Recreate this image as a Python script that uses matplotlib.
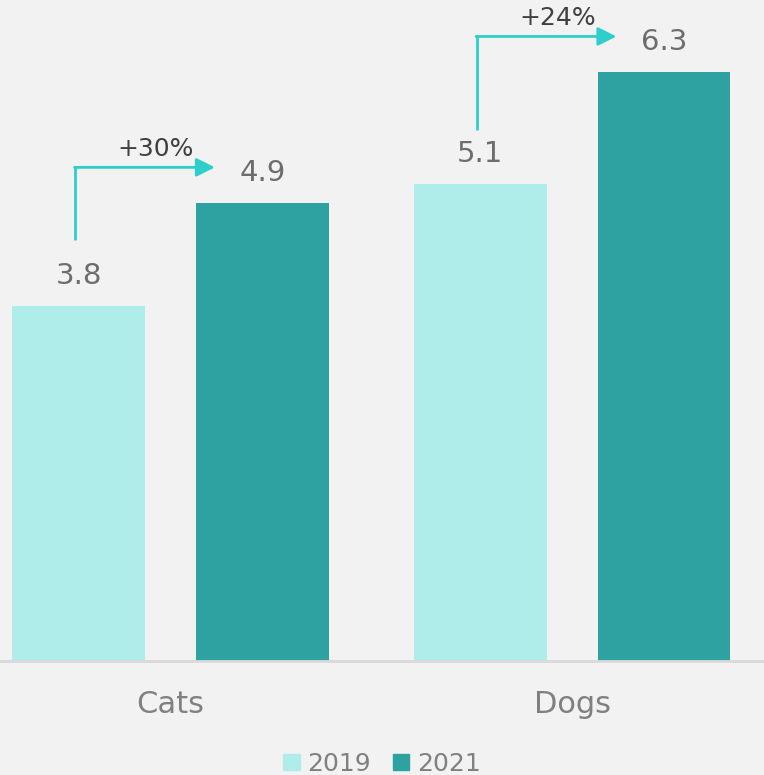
import matplotlib.pyplot as plt
import numpy as np
from matplotlib.patches import Patch

categories = ["Cats", "Dogs"]
years = ["2019", "2021"]
values_2019 = [3.8, 5.1]
values_2021 = [4.9, 6.3]
growth_labels = ["+30%", "+24%"]

c_light = "#aeede9"
c_dark = "#2ea2a0"
c_arrow = "#2ecfcb"
bg = "#f2f2f2"

plt.rcParams["font.family"] = ["DejaVu Sans"]

fig = plt.figure(figsize=(7.64, 7.75), dpi=100, facecolor=bg)
ax = fig.add_axes([0, 114 / 775, 1, 661 / 775])
ax.set_facecolor(bg)

x = np.arange(len(categories))
off = 0.229
w = 0.331
ax.bar(x - off, values_2019, width=w, color=c_light)
ax.bar(x + off, values_2021, width=w, color=c_dark)

for xi, v in zip(x - off, values_2019):
    ax.text(xi, v + 0.32, f"{v}", ha="center", va="center", fontsize=21, color="#6d6d6d")
for xi, v in zip(x + off, values_2021):
    ax.text(xi, v + 0.32, f"{v}", ha="center", va="center", fontsize=21, color="#6d6d6d")

# growth arrows (start of the vertical leg sits a bit above the 2019 label)
start_gap = [0.70, 0.58]
for i, lab in enumerate(growth_labels):
    x0 = x[i] - off - 0.008
    y0 = values_2019[i] + start_gap[i]
    y1 = values_2021[i] + 0.38
    x1 = x[i] + off - w / 2 + 0.047
    ax.plot([x0, x0], [y0, y1], color=c_arrow, lw=2, solid_capstyle="butt")
    ax.annotate("", xy=(x1, y1), xytext=(x0 - 0.002, y1),
                arrowprops=dict(arrowstyle="-|>", color=c_arrow, lw=2,
                                mutation_scale=28, shrinkA=0, shrinkB=0))
    ax.text((x0 + x1) / 2 + 0.027, y1 + 0.2, lab, ha="center", va="center",
            fontsize=18, color="#404040")

ax.set_xlim(-0.4247, 1.478)
ax.set_ylim(0, 7.07)
ax.set_yticks([])
ax.set_xticks(x)
ax.set_xticklabels(categories, fontsize=22, color="#808080")
ax.tick_params(axis="x", length=0, pad=21)
for s in ["top", "left", "right"]:
    ax.spines[s].set_visible(False)
ax.spines["bottom"].set_color("#d9d9d9")
ax.spines["bottom"].set_linewidth(2)

handles = [Patch(color=c_light), Patch(color=c_dark)]
fig.legend(handles, years, loc="lower center", ncol=2, frameon=False,
           bbox_to_anchor=(0.5, -0.03), fontsize=18, labelcolor="#808080",
           handlelength=0.65, handleheight=0.65, handletextpad=0.3, columnspacing=0.9)

fig.savefig("out.png", dpi=100, facecolor=bg)
